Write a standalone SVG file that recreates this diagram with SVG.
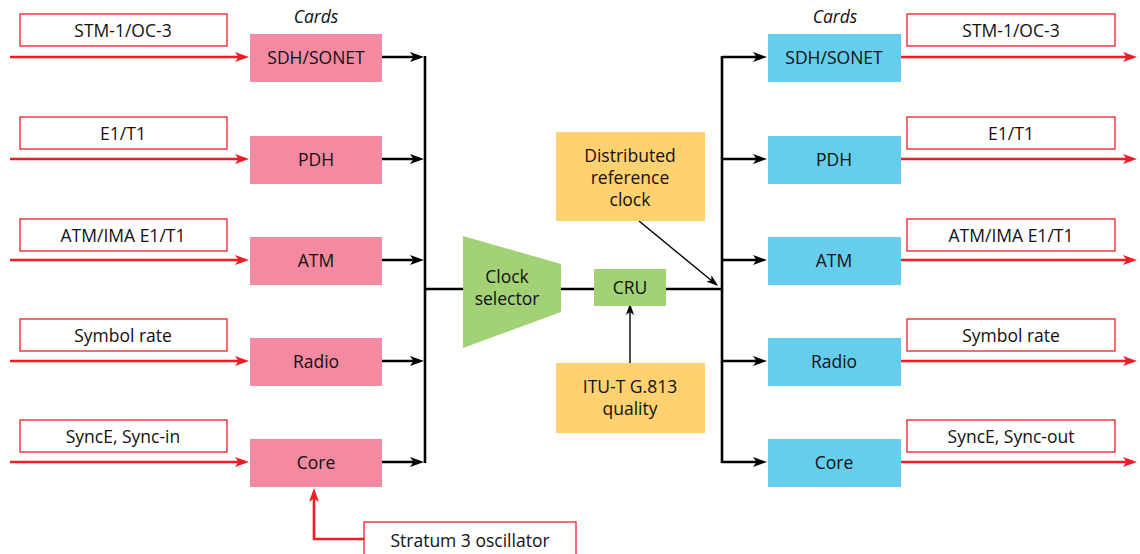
<svg xmlns="http://www.w3.org/2000/svg" width="1140" height="554" viewBox="0 0 1140 554">
<defs>
<marker id="ab" markerUnits="userSpaceOnUse" viewBox="0 0 14 10" refX="6" refY="5" markerWidth="14" markerHeight="10" orient="auto"><path d="M0,0 L14,5 L0,10 L3.5,5 Z" fill="#000"/></marker>
<marker id="ar" markerUnits="userSpaceOnUse" viewBox="0 0 14 10" refX="6" refY="5" markerWidth="14" markerHeight="10" orient="auto"><path d="M0,0 L14,5 L0,10 L3.5,5 Z" fill="#EE1C25"/></marker>
<marker id="at" markerUnits="userSpaceOnUse" viewBox="0 0 12 8" refX="4" refY="4" markerWidth="12" markerHeight="8" orient="auto"><path d="M0,0 L12,4 L0,8 L3,4 Z" fill="#000"/></marker>
</defs>
<style>
text{font-family:"Open Sans","Liberation Sans",Arial,sans-serif;font-size:17.5px;fill:#111;text-anchor:middle}
.it{font-style:italic}
.lbl{fill:#fff;stroke:#EE1C25;stroke-width:1.3}
.pink{fill:#F48AA1}
.blue{fill:#66CDEC}
.yel{fill:#FFD170}
.grn{fill:#A3D176}
.red{stroke:#EE1C25;stroke-width:2.6;fill:none;marker-end:url(#ar)}
.blk{stroke:#000;stroke-width:2.6;fill:none;marker-end:url(#ab)}
.bus{stroke:#000;stroke-width:2.6;fill:none}
.thin{stroke:#000;stroke-width:1.4;fill:none;marker-end:url(#at)}
</style>
<rect width="1140" height="554" fill="#fff"/>
<text class="it" x="316" y="23">Cards</text>
<text class="it" x="835" y="23">Cards</text>

<g id="connectors">
<path class="red" d="M10,57 H241"/>
<path class="red" d="M10,159 H241"/>
<path class="red" d="M10,260 H241"/>
<path class="red" d="M10,361 H241"/>
<path class="red" d="M10,462 H241"/>
<path class="red" d="M364,539 H314 V496"/>
<path class="blk" d="M382,57 H416"/>
<path class="blk" d="M382,159 H416"/>
<path class="blk" d="M382,260 H416"/>
<path class="blk" d="M382,361 H416"/>
<path class="blk" d="M382,462 H416"/>
<path class="bus" d="M425,56 V463"/>
<path class="bus" d="M425,289 H463 M561,289 H594 M666,289 H722"/>
<path class="bus" d="M722,56 V463"/>
<path class="blk" d="M722,57 H759"/>
<path class="blk" d="M722,159 H759"/>
<path class="blk" d="M722,260 H759"/>
<path class="blk" d="M722,361 H759"/>
<path class="blk" d="M722,462 H759"/>
<path class="red" d="M901,57 H1129"/>
<path class="red" d="M901,159 H1129"/>
<path class="red" d="M901,260 H1129"/>
<path class="red" d="M901,361 H1129"/>
<path class="red" d="M901,462 H1129"/>
<path class="thin" d="M639,221 L712,281"/>
<path class="thin" d="M630,363 V311"/>
</g>

<g id="in-stm"><rect class="lbl" x="20" y="14" width="207" height="32"/><text x="123" y="37">STM-1/OC-3</text></g>
<g id="in-e1"><rect class="lbl" x="20" y="117" width="207" height="32"/><text x="123" y="140">E1/T1</text></g>
<g id="in-atm"><rect class="lbl" x="20" y="219" width="207" height="32"/><text x="123" y="242">ATM/IMA E1/T1</text></g>
<g id="in-sym"><rect class="lbl" x="20" y="319" width="207" height="32"/><text x="123" y="342">Symbol rate</text></g>
<g id="in-sync"><rect class="lbl" x="20" y="420" width="207" height="32"/><text x="123" y="443">SyncE, Sync-in</text></g>
<g id="stratum"><rect class="lbl" x="364" y="522" width="212" height="40"/><text x="470" y="547">Stratum 3 oscillator</text></g>

<g id="l-sdh"><rect class="pink" x="250" y="34" width="132" height="48"/><text x="316" y="64">SDH/SONET</text></g>
<g id="l-pdh"><rect class="pink" x="250" y="136" width="132" height="48"/><text x="316" y="166">PDH</text></g>
<g id="l-atm"><rect class="pink" x="250" y="237" width="132" height="48"/><text x="316" y="267">ATM</text></g>
<g id="l-radio"><rect class="pink" x="250" y="338" width="132" height="48"/><text x="316" y="368">Radio</text></g>
<g id="l-core"><rect class="pink" x="250" y="439" width="132" height="48"/><text x="316" y="469">Core</text></g>

<g id="clock-selector"><path class="grn" d="M463,236 L561,264 L561,312 L463,348 Z"/><text x="507" y="283">Clock</text><text x="507" y="305">selector</text></g>
<g id="cru"><rect class="grn" x="594" y="269" width="72" height="37"/><text x="630" y="294">CRU</text></g>
<g id="dist"><rect class="yel" x="556" y="132" width="149" height="89"/><text x="630" y="162">Distributed</text><text x="630" y="184">reference</text><text x="630" y="206">clock</text></g>
<g id="itu"><rect class="yel" x="556" y="363" width="149" height="70"/><text x="630" y="393">ITU-T G.813</text><text x="630" y="415">quality</text></g>

<g id="r-sdh"><rect class="blue" x="768" y="34" width="133" height="48"/><text x="834" y="64">SDH/SONET</text></g>
<g id="r-pdh"><rect class="blue" x="768" y="136" width="133" height="48"/><text x="834" y="166">PDH</text></g>
<g id="r-atm"><rect class="blue" x="768" y="237" width="133" height="48"/><text x="834" y="267">ATM</text></g>
<g id="r-radio"><rect class="blue" x="768" y="338" width="133" height="48"/><text x="834" y="368">Radio</text></g>
<g id="r-core"><rect class="blue" x="768" y="439" width="133" height="48"/><text x="834" y="469">Core</text></g>

<g id="out-stm"><rect class="lbl" x="907" y="14" width="208" height="32"/><text x="1011" y="37">STM-1/OC-3</text></g>
<g id="out-e1"><rect class="lbl" x="907" y="117" width="208" height="32"/><text x="1011" y="140">E1/T1</text></g>
<g id="out-atm"><rect class="lbl" x="907" y="219" width="208" height="32"/><text x="1011" y="242">ATM/IMA E1/T1</text></g>
<g id="out-sym"><rect class="lbl" x="907" y="319" width="208" height="32"/><text x="1011" y="342">Symbol rate</text></g>
<g id="out-sync"><rect class="lbl" x="907" y="420" width="208" height="32"/><text x="1011" y="443">SyncE, Sync-out</text></g>
</svg>
